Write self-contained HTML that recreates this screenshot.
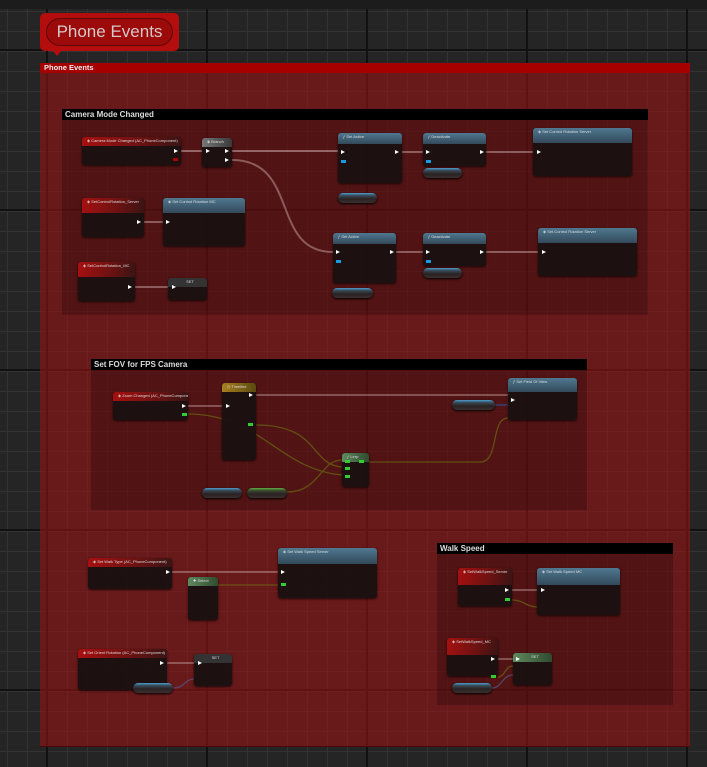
<!DOCTYPE html>
<html><head><meta charset="utf-8"><style>
*{margin:0;padding:0;box-sizing:border-box}
html,body{width:707px;height:767px;overflow:hidden}
body{position:relative;font-family:"Liberation Sans",sans-serif;
background-color:#252525;
background-image:
linear-gradient(90deg,#111 0 2px,transparent 2px),
linear-gradient(0deg,#111 0 2px,transparent 2px),
linear-gradient(90deg,#333 0 1px,transparent 1px),
linear-gradient(0deg,#333 0 1px,transparent 1px);
background-size:160px 160px,160px 160px,20px 20px,20px 20px;
background-position:46px 0,0 51px,7px 0,0 12px}
.a{position:absolute}
.topbar{left:0;top:0;width:707px;height:9px;background:#1c1c1c}
.bub{left:40px;top:13px;width:139px;height:38px;background:#b30d0d;border-radius:5px}
.bub .p{position:absolute;left:6px;top:5px;width:127px;height:28px;border:1px solid #5a0808;border-radius:14px;background:#9c0a0a;color:#d6c9c9;font-size:17px;text-align:center;line-height:26px}
.tri{left:52px;top:50px;width:0;height:0;border-left:5px solid transparent;border-right:5px solid transparent;border-top:6px solid #b30d0d}
.cm{left:40px;top:63px;width:650px;height:684px;background:rgba(150,18,18,.6);border-bottom:1px solid #4a0808}
.cmh{left:40px;top:63px;width:650px;height:10px;background:#a60000;color:#eee;font-size:7.5px;font-weight:bold;line-height:10px;padding-left:4px}
.sc{background:rgba(0,0,0,.22)}
.sch{background:#000;color:#ddd;font-size:8px;font-weight:bold;line-height:11px;padding-left:3px;height:11px}
.n{position:absolute;background:rgba(24,16,16,.93);border-radius:3px;box-shadow:0 1px 2px rgba(0,0,0,.7);overflow:hidden}
.n .h{height:9px;font-size:4px;color:#ddd;line-height:8px;padding-left:5px;white-space:nowrap}
.ev .h{background:linear-gradient(100deg,#a81010,#6a1212 60%,#3a1414)}
.fn .h{background:linear-gradient(180deg,#4f7890,#33495a)}
.gr .h{background:linear-gradient(90deg,#777,#3a3a3a)}
.gd .h{background:linear-gradient(90deg,#a88020,#5a4a10)}
.gn .h{background:linear-gradient(90deg,#5f8a5f,#2f4a2f)}
.pill{position:absolute;height:10px;border-radius:5px;background:linear-gradient(#4aa0d0 0,#3a4a58 25%,#2a2222 60%,#3a3030);box-shadow:0 1px 2px #000}
.pg{background:linear-gradient(#60b040 0,#3a4a30 25%,#2a2222 60%,#3a3030)}
.x{position:absolute;width:0;height:0;border-top:2.5px solid transparent;border-bottom:2.5px solid transparent;border-left:4px solid #fff}
.d{position:absolute;width:5px;height:3px}
</style></head><body>
<div class="a topbar"></div>
<div class="a bub"><div class="p">Phone Events</div></div>
<div class="a tri"></div>
<div class="a cm"></div>
<div class="a cmh">Phone Events</div>

<div class="a sc" style="left:62px;top:109px;width:586px;height:206px"><div class="sch">Camera Mode Changed</div></div>
<div class="a sc" style="left:91px;top:359px;width:496px;height:151px"><div class="sch">Set FOV for FPS Camera</div></div>
<div class="a sc" style="left:437px;top:543px;width:236px;height:162px"><div class="sch">Walk Speed</div></div>

<svg class="a" style="left:0;top:0" width="707" height="767">
<g fill="none" stroke-width="2">
<path d="M181 151 H202" stroke="rgba(230,200,200,.45)"/>
<path d="M232 151 H338" stroke="rgba(230,200,200,.45)"/>
<path d="M232 160 C300 160 270 252 333 252" stroke="rgba(230,200,200,.4)"/>
<path d="M402 152 H423 M486 152 H533" stroke="rgba(230,200,200,.4)"/>
<path d="M396 252 H423 M486 252 H538" stroke="rgba(230,200,200,.4)"/>
<path d="M144 222 H163 M135 287 H168" stroke="rgba(230,200,200,.4)"/>
<path d="M188 406 H222 M256 395 H508" stroke="rgba(230,200,200,.35)"/>
<path d="M172 572 H278" stroke="rgba(230,200,200,.35)"/>
<path d="M167 663 H194 M512 590 H538 M498 659 H513" stroke="rgba(230,200,200,.35)"/>
<path d="M495 405 H508" stroke="rgba(60,60,110,.8)"/>
<path d="M188 414 C260 414 280 470 342 475 M256 425 C320 425 310 465 342 467 M287 492 C320 492 320 460 342 460 M368 462 H480 C500 462 490 418 508 418" stroke="rgba(110,120,20,.6)" stroke-width="1.3"/>
<path d="M218 585 H278 M512 600 C525 600 525 607 538 607 M498 677 C505 677 505 666 513 666" stroke="rgba(110,120,20,.6)" stroke-width="1.3"/>
<path d="M173 688 C185 688 185 679 194 679 M492 688 C502 688 502 675 513 675" stroke="rgba(90,90,140,.7)" stroke-width="1.3"/>
</g></svg>

<!-- Camera -->
<div class="n ev" style="left:82px;top:137px;width:99px;height:28px"><div class="h">◈ Camera Mode Changed (AC_PhoneComponent)</div></div>
<div class="n gr" style="left:202px;top:138px;width:30px;height:29px"><div class="h">◈ Branch</div></div>
<div class="n fn" style="left:338px;top:133px;width:64px;height:50px"><div class="h" style="height:11px">ƒ Set Active</div></div>
<div class="n fn" style="left:423px;top:133px;width:63px;height:33px"><div class="h" style="height:11px">ƒ Deactivate</div></div>
<div class="n fn" style="left:533px;top:128px;width:99px;height:48px"><div class="h" style="height:15px">◈ Set Control Rotation Server</div></div>
<div class="pill" style="left:423px;top:168px;width:39px"></div>
<div class="pill" style="left:338px;top:193px;width:39px"></div>
<div class="n ev" style="left:82px;top:198px;width:62px;height:39px"><div class="h" style="height:15px">◈ SetControlRotation_Server</div></div>
<div class="n fn" style="left:163px;top:198px;width:82px;height:48px"><div class="h" style="height:15px">◈ Set Control Rotation MC</div></div>
<div class="n ev" style="left:78px;top:262px;width:57px;height:39px"><div class="h" style="height:15px">◈ SetControlRotation_MC</div></div>
<div class="n gr" style="left:168px;top:278px;width:39px;height:22px"><div class="h" style="background:#333;text-align:center">SET</div></div>
<div class="n fn" style="left:333px;top:233px;width:63px;height:50px"><div class="h" style="height:11px">ƒ Set Active</div></div>
<div class="n fn" style="left:423px;top:233px;width:63px;height:33px"><div class="h" style="height:11px">ƒ Deactivate</div></div>
<div class="pill" style="left:423px;top:268px;width:39px"></div>
<div class="pill" style="left:332px;top:288px;width:41px"></div>
<div class="n fn" style="left:538px;top:228px;width:99px;height:48px"><div class="h" style="height:15px">◈ Set Control Rotation Server</div></div>

<!-- FOV -->
<div class="n ev" style="left:113px;top:392px;width:75px;height:28px"><div class="h">◈ Zoom Changed (AC_PhoneComponent)</div></div>
<div class="n gd" style="left:222px;top:383px;width:34px;height:77px"><div class="h">◷ Timeline</div></div>
<div class="n fn" style="left:508px;top:378px;width:69px;height:42px"><div class="h" style="height:14px">ƒ Set Field Of View</div></div>
<div class="pill" style="left:452px;top:400px;width:43px"></div>
<div class="n gn" style="left:342px;top:453px;width:27px;height:34px"><div class="h">ƒ Lerp</div></div>
<div class="pill" style="left:202px;top:488px;width:40px"></div>
<div class="pill pg" style="left:247px;top:488px;width:40px"></div>

<!-- bottom -->
<div class="n ev" style="left:88px;top:558px;width:84px;height:31px"><div class="h">◈ Set Walk Type (AC_PhoneComponent)</div></div>
<div class="n gn" style="left:188px;top:577px;width:30px;height:43px"><div class="h">✚ Select</div></div>
<div class="n fn" style="left:278px;top:548px;width:99px;height:50px"><div class="h" style="height:16px">◈ Set Walk Speed Server</div></div>
<div class="n ev" style="left:78px;top:649px;width:89px;height:41px"><div class="h">◈ Set Orient Rotation (AC_PhoneComponent)</div></div>
<div class="n gr" style="left:194px;top:654px;width:38px;height:32px"><div class="h" style="background:#333;text-align:center">SET</div></div>
<div class="pill" style="left:133px;top:683px;width:40px"></div>

<div class="n ev" style="left:458px;top:568px;width:54px;height:38px"><div class="h" style="height:17px">◈ SetWalkSpeed_Server</div></div>
<div class="n fn" style="left:537px;top:568px;width:83px;height:47px"><div class="h" style="height:17px">◈ Set Walk Speed MC</div></div>
<div class="n ev" style="left:447px;top:638px;width:51px;height:38px"><div class="h" style="height:17px">◈ SetWalkSpeed_MC</div></div>
<div class="n gn" style="left:513px;top:653px;width:39px;height:32px"><div class="h" style="text-align:center">SET</div></div>
<div class="pill" style="left:452px;top:683px;width:40px"></div>

<!-- pins -->
<div class="x" style="left:174px;top:149px"></div><div class="d" style="left:173px;top:158px;background:#a00"></div>
<div class="x" style="left:206px;top:149px"></div><div class="x" style="left:225px;top:149px"></div><div class="x" style="left:225px;top:158px"></div>
<div class="x" style="left:341px;top:150px"></div><div class="x" style="left:395px;top:150px"></div><div class="d" style="left:341px;top:160px;background:#1a9be0"></div>
<div class="x" style="left:426px;top:150px"></div><div class="x" style="left:480px;top:150px"></div><div class="d" style="left:426px;top:160px;background:#1a9be0"></div>
<div class="x" style="left:537px;top:150px"></div>
<div class="x" style="left:336px;top:250px"></div><div class="x" style="left:390px;top:250px"></div><div class="d" style="left:336px;top:260px;background:#1a9be0"></div>
<div class="x" style="left:426px;top:250px"></div><div class="x" style="left:480px;top:250px"></div><div class="d" style="left:426px;top:260px;background:#1a9be0"></div>
<div class="x" style="left:542px;top:250px"></div>
<div class="x" style="left:137px;top:220px"></div><div class="x" style="left:166px;top:220px"></div>
<div class="x" style="left:128px;top:285px"></div><div class="x" style="left:172px;top:285px"></div>
<div class="x" style="left:182px;top:404px"></div><div class="x" style="left:226px;top:404px"></div><div class="x" style="left:249px;top:393px"></div><div class="x" style="left:511px;top:398px"></div>
<div class="d" style="left:182px;top:413px;background:#3c3"></div><div class="d" style="left:248px;top:423px;background:#3c3"></div>
<div class="d" style="left:345px;top:460px;background:#3c3"></div><div class="d" style="left:345px;top:467px;background:#3c3"></div><div class="d" style="left:345px;top:475px;background:#3c3"></div><div class="d" style="left:359px;top:460px;background:#3c3"></div>
<div class="x" style="left:166px;top:570px"></div><div class="x" style="left:281px;top:570px"></div><div class="d" style="left:281px;top:583px;background:#3c3"></div>
<div class="x" style="left:160px;top:661px"></div><div class="x" style="left:198px;top:661px"></div>
<div class="x" style="left:505px;top:588px"></div><div class="x" style="left:541px;top:588px"></div><div class="d" style="left:505px;top:598px;background:#3c3"></div>
<div class="x" style="left:491px;top:657px"></div><div class="x" style="left:516px;top:657px"></div><div class="d" style="left:491px;top:675px;background:#3c3"></div>
</body></html>
